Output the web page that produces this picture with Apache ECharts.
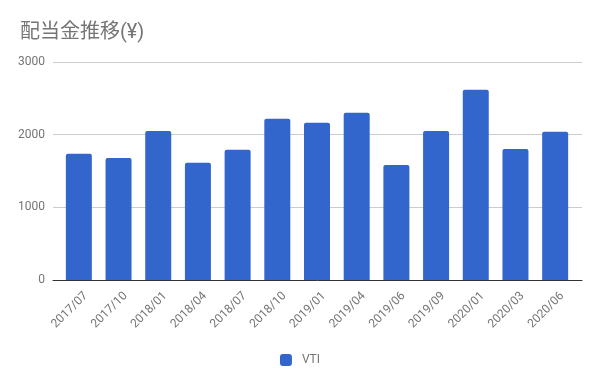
<!DOCTYPE html>
<html>
<head>
<meta charset="utf-8">
<script src="https://cdn.jsdelivr.net/npm/echarts@6/dist/echarts.min.js"></script>
<style>html,body{margin:0;padding:0;background:#fff}#c{width:600px;height:371px}</style>
</head>
<body>
<div id="c"></div>
<script>
const categories = ['2017/07','2017/10','2018/01','2018/04','2018/07','2018/10','2019/01','2019/04','2019/06','2019/09','2020/01','2020/03','2020/06'];
const vtiValues = [1736, 1680, 2052, 1612, 1791, 2218, 2163, 2300, 1584, 2052, 2617, 1804, 2039];
const yTicks = [0, 1000, 2000, 3000];

const chart = echarts.init(document.getElementById('c'), null, {renderer: 'canvas'});
const font = 'Roboto, "Noto Sans CJK JP", sans-serif';
const yBase = {type: 'value', min: yTicks[0], max: yTicks[yTicks.length-1], interval: 1000};
chart.setOption({
  animation: false,
  textStyle: {fontFamily: font},
  title: {
    text: '配当金推移(¥)',
    left: 15, top: 18,
    textStyle: {fontSize: 20, fontWeight: 'normal', color: '#757575', fontFamily: font}
  },
  legend: {
    data: ['VTI'],
    left: 'center', top: 349,
    icon: 'roundRect', itemWidth: 12, itemHeight: 12, itemGap: 10,
    textStyle: {fontSize: 12, color: '#757575', fontFamily: font, padding: [0, 0, 0, 5]}
  },
  grid: [
    {left: 53, right: 18, top: 62, bottom: 91, containLabel: false},
    {left: 59, right: 25, top: 62, bottom: 91, containLabel: false},
    {left: 66, right: 18, top: 62, bottom: 91, containLabel: false}
  ],
  xAxis: [
    {gridIndex: 0, type: 'category', data: categories,
     axisLine: {show: true, lineStyle: {color: '#333', width: 1}},
     axisTick: {show: false}, axisLabel: {show: false}},
    {gridIndex: 1, type: 'category', data: categories,
     axisLine: {show: false}, axisTick: {show: false}, axisLabel: {show: false}},
    {gridIndex: 2, type: 'category', data: categories,
     axisLine: {show: false}, axisTick: {show: false},
     axisLabel: {rotate: 45, margin: 14, fontSize: 12, color: '#757575', fontFamily: font, interval: 0}}
  ],
  yAxis: [
    Object.assign({gridIndex: 0,
     axisLine: {show: false}, axisTick: {show: false},
     axisLabel: {margin: 8, fontSize: 12, color: '#757575', fontFamily: font, formatter: v => String(v)},
     splitLine: {lineStyle: {color: '#cccccc', width: 1}}}, yBase),
    Object.assign({gridIndex: 1, show: false, splitLine: {show: false}}, yBase),
    Object.assign({gridIndex: 2, show: false, splitLine: {show: false}}, yBase)
  ],
  series: [{
    name: 'VTI', type: 'bar', xAxisIndex: 1, yAxisIndex: 1,
    data: vtiValues, barWidth: 26,
    itemStyle: {color: '#3366cc', borderRadius: [2, 2, 0, 0]}
  }]
});
</script>
</body>
</html>
